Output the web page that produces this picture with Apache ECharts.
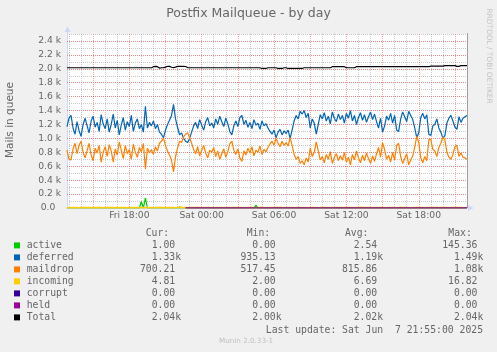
<!DOCTYPE html>
<html><head><meta charset="utf-8">
<script src="https://cdn.jsdelivr.net/npm/echarts@6/dist/echarts.min.js"></script>
<style>html,body{margin:0;padding:0;background:#f0f0f0;}#c{width:497px;height:352px;}</style>
</head><body><div id="c"></div>
<script>
// ---------- data ----------
const startMinutes = 12 * 60 + 50; // Fri 12:50, 10-minute steps
const stepMinutes = 10;
const pointCount = 200;
const xTickLabels = ['Fri 18:00', 'Sat 00:00', 'Sat 06:00', 'Sat 12:00', 'Sat 18:00'];
const yTickValues = [0, 200, 400, 600, 800, 1000, 1200, 1400, 1600, 1800, 2000, 2200, 2400];

const seriesNames = ['active', 'deferred', 'maildrop', 'incoming', 'corrupt', 'held', 'Total'];
const seriesColors = ['#00cc00', '#0066b3', '#ff8000', '#ffcc00', '#330099', '#990099', '#000000'];
const curVals = ['1.00', '1.33k', '700.21', '4.81', '0.00', '0.00', '2.04k'];
const minVals = ['0.00', '935.13', '517.45', '2.00', '0.00', '0.00', '2.00k'];
const avgVals = ['2.54', '1.19k', '815.86', '6.69', '0.00', '0.00', '2.02k'];
const maxVals = ['145.36', '1.49k', '1.08k', '16.82', '0.00', '0.00', '2.04k'];
const lastUpdate = 'Last update: Sat Jun  7 21:55:00 2025';

const active = [
  0,0,1,0,0,0,0,2,0,0,
  0,0,0,0,1,0,0,0,0,0,
  0,2,0,0,0,0,0,1,0,0,
  0,0,0,0,0,1,0,95,0,145,
  0,0,0,1,0,0,0,0,2,0,
  0,0,0,0,0,0,1,0,0,0,
  0,0,0,0,2,0,0,0,0,0,
  0,1,0,0,0,6,0,0,0,0,
  0,0,0,0,0,0,1,0,0,0,
  0,0,0,0,40,0,0,0,2,0,
  0,0,0,0,0,1,0,0,0,0,
  0,0,2,0,0,0,0,0,0,1,
  0,0,0,0,0,0,0,0,0,0,
  0,1,0,0,0,0,0,2,0,0,
  0,0,0,0,0,0,0,0,1,0,
  0,0,0,2,0,0,0,0,0,0,
  0,0,0,0,0,1,0,0,0,0,
  0,2,0,0,0,0,0,0,0,0,
  0,0,0,1,0,0,0,0,0,2,
  0,0,0,0,0,0,1,0,0,1];
const deferred = [
  1170,1290,1330,1150,1060,1240,1110,1030,1200,1290,
  1180,1080,1250,1320,1160,1230,1100,1340,1210,1140,
  1280,1090,1200,1350,1150,1260,1050,1190,1300,1120,
  1240,1170,1330,1100,1220,1280,1140,1200,1090,1460,
  1150,1230,1180,1250,1140,1200,1090,1060,1010,1120,
  1200,1260,1330,1490,1280,1160,1050,1080,1000,960,
  940,1000,1090,1180,1230,1140,1270,1190,1120,1240,
  1300,1180,1220,1150,1280,1200,1320,1240,1170,1290,
  1210,1100,1050,1180,1250,1170,1300,1330,1200,1260,
  1160,1230,1140,1270,1190,1220,1130,1250,1180,1210,
  1150,1100,1060,1120,1010,1090,1130,1050,1110,1070,
  1120,1000,1120,1250,1330,1280,1390,1350,1400,1300,
  1360,1150,1280,1220,1060,1200,1340,1280,1370,1250,
  1320,1210,1380,1290,1240,1350,1270,1330,1220,1360,
  1290,1400,1250,1330,1200,1300,1370,1260,1340,1230,
  1310,1380,1270,1350,1240,1150,1290,1090,1180,1320,
  1260,1360,1220,1330,1120,1100,1280,1380,1310,1240,
  1390,1330,1270,1150,1010,1080,1300,1360,1280,1340,
  1060,1040,1180,1200,1280,1150,1090,1000,1040,1220,
  1290,1330,1250,1160,1130,1310,1230,1290,1310,1330];
const maildrop = [
  830,700,690,850,930,780,900,960,800,720,
  820,930,760,680,860,790,900,660,800,880,
  740,910,820,660,850,760,950,830,710,900,
  780,840,700,920,800,730,870,810,930,560,
  860,790,840,770,880,820,930,960,1000,900,
  820,760,690,520,740,860,960,940,1020,1060,
  1080,1010,930,840,780,880,750,830,900,790,
  720,830,800,870,740,820,700,780,850,730,
  810,920,960,830,770,850,720,670,820,760,
  860,790,880,750,830,800,890,770,840,810,
  870,920,960,900,1000,930,880,960,900,940,
  890,1010,900,770,700,740,640,680,620,720,
  660,860,740,800,950,820,690,740,650,770,
  700,810,640,730,780,680,750,690,800,660,
  730,620,770,690,820,720,650,760,680,790,
  710,640,750,670,780,870,730,940,840,700,
  760,660,800,690,900,930,740,640,710,780,
  620,690,750,870,1030,940,720,650,740,680,
  980,990,840,820,740,870,930,1020,980,800,
  730,700,770,880,900,740,790,730,720,700];
const incoming = [
  5,4,6,5,7,5,4,6,5,8,
  6,5,4,7,5,6,9,5,4,6,
  5,7,6,4,5,8,6,5,7,5,
  4,6,5,7,6,5,4,7,5,6,
  5,8,6,4,5,7,12,5,6,4,
  6,5,7,5,4,6,17,5,6,5,
  4,7,5,6,5,10,6,4,5,7,
  6,5,8,4,6,5,7,5,6,4,
  5,6,4,9,5,7,6,5,4,6,
  7,5,6,4,8,5,6,5,7,4,
  6,5,4,7,5,6,11,5,4,6,
  5,7,6,4,5,8,6,5,2,6,
  4,6,5,7,5,4,6,9,5,6,
  5,4,6,5,7,6,5,8,6,5,
  6,5,7,4,6,5,9,6,5,7,
  5,6,4,7,5,6,8,5,6,4,
  7,5,6,5,4,6,10,5,7,5,
  6,4,5,7,6,5,8,6,4,5,
  5,7,6,5,9,4,6,5,7,6,
  4,6,5,8,5,6,7,5,4,5];
const corrupt = [
  null,null,null,null,null,null,null,null,null,null,
  null,null,null,null,null,null,null,null,null,null,
  null,null,null,null,null,null,null,null,null,null,
  null,null,null,null,null,null,null,null,null,null,
  null,null,null,null,null,null,null,null,null,null,
  null,null,null,null,null,null,null,null,null,0,
  0,0,0,0,0,0,0,0,0,0, 0,0,0,0,0,0,0,0,0,0,
  0,0,0,0,0,0,0,0,0,0, 0,0,0,0,0,0,0,0,0,0,
  0,0,0,0,0,0,0,0,0,0, 0,0,0,0,0,0,0,0,0,0,
  0,0,0,0,0,0,0,0,0,0, 0,0,0,0,0,0,0,0,0,0,
  0,0,0,0,0,0,0,0,0,0, 0,0,0,0,0,0,0,0,0,0,
  0,0,0,0,0,0,0,0,0,0, 0,0,0,0,0,0,0,0,0,0,
  0,0,0,0,0,0,0,0,0,0, 0,0,0,0,0,0,0,0,0,0];
const held = [
  null,null,null,null,null,null,null,null,null,null,
  null,null,null,null,null,null,null,null,null,null,
  null,null,null,null,null,null,null,null,null,null,
  null,null,null,null,null,null,null,null,null,null,
  null,null,null,null,null,null,null,null,null,null,
  null,null,null,null,null,null,null,null,null,0,
  0,0,0,0,0,0,0,0,0,0, 0,0,0,0,0,0,0,0,0,0,
  0,0,0,0,0,0,0,0,0,0, 0,0,0,0,0,0,0,0,0,0,
  0,0,0,0,0,0,0,0,0,0, 0,0,0,0,0,0,0,0,0,0,
  0,0,0,0,0,0,0,0,0,0, 0,0,0,0,0,0,0,0,0,0,
  0,0,0,0,0,0,0,0,0,0, 0,0,0,0,0,0,0,0,0,0,
  0,0,0,0,0,0,0,0,0,0, 0,0,0,0,0,0,0,0,0,0,
  0,0,0,0,0,0,0,0,0,0, 0,0,0,0,0,0,0,0,0,0];
const total = [
  2015,2015,2015,2015,2015,2015,2015,2015,2015,2015,
  2015,2015,2015,2015,2015,2015,2015,2015,2015,2015,
  2015,2015,2015,2015,2015,2015,2015,2015,2015,2015,
  2015,2015,2015,2015,2015,2015,2015,2015,2015,2015,
  2015,2015,2015,2030,2035,2030,2010,2015,2018,2025,
  2035,2035,2022,2018,2025,2035,2035,2035,2035,2033,
  2018,2015,2015,2015,2015,2015,2015,2015,2015,2015,
  2015,2015,2015,2015,2015,2015,2015,2015,2015,2015,
  2015,2015,2015,2015,2015,2015,2015,2015,2015,2015,
  2015,2015,2015,2015,2015,2015,2015,2005,2005,2005,
  2015,2015,2015,2015,2015,2005,2005,2005,2015,2015,
  2005,2005,2005,2005,2005,2005,2005,2005,2015,2015,
  2015,2015,2015,2015,2015,2015,2015,2015,2015,2015,
  2015,2015,2030,2030,2030,2030,2030,2030,2030,2015,
  2015,2015,2015,2015,2030,2030,2030,2030,2030,2030,
  2030,2030,2030,2030,2030,2030,2030,2030,2030,2030,
  2030,2030,2030,2030,2030,2030,2030,2030,2030,2030,
  2030,2030,2030,2030,2030,2030,2030,2030,2030,2030,
  2030,2038,2038,2038,2038,2038,2038,2038,2045,2045,
  2045,2045,2045,2045,2035,2035,2045,2045,2045,2045];
const seriesData = [active, deferred, maildrop, incoming, corrupt, held, total];

// ---------- categories (time of each 10-minute step) ----------
const categories = [];
for (let i = 0; i < pointCount; i++) {
  const m = startMinutes + i * stepMinutes;
  const day = m >= 1440 ? 'Sat' : 'Fri';
  const mm = m % 1440;
  const h = Math.floor(mm / 60), mi = mm % 60;
  categories.push(day + ' ' + String(h).padStart(2, '0') + ':' + String(mi).padStart(2, '0'));
}
function isHour(v) { return String(v).slice(7) === '00'; }

// ---------- style ----------
const SANS = '"DejaVu Sans", sans-serif';
const MONO = '"DejaVu Sans Mono", monospace';
const FONT_COL = '#666666';
const AXIS_COL = '#cfd6f8';
const MINOR = 'rgba(150,150,150,0.5)';
const MAJOR = 'rgba(255,70,70,0.5)';
const DOT = [1, 1];

const gridL = 67, gridR = 467, gridT = 34, gridB = 208;

const graphics = [];
graphics.push({type: 'text', x: 248.5, y: 13.5, z: 100,
  style: {text: 'Postfix Mailqueue - by day', font: '12.5px ' + SANS, fill: FONT_COL, align: 'center', verticalAlign: 'middle'}});
graphics.push({type: 'text', x: 10.5, y: 120, rotation: Math.PI / 2, z: 100,
  style: {text: 'Mails in queue', font: '10.5px ' + SANS, fill: FONT_COL, align: 'center', verticalAlign: 'middle'}});
graphics.push({type: 'text', x: 488.5, y: 56, rotation: -Math.PI / 2, z: 100,
  style: {text: 'RRDTOOL / TOBI OETIKER', font: '7.4px ' + SANS, fill: '#c4c4c4', align: 'center', verticalAlign: 'middle'}});
// axis arrows & right frame
graphics.push({type: 'line', z: 100, shape: {x1: gridL + 0.5, y1: 31, x2: gridL + 0.5, y2: gridT}, style: {stroke: AXIS_COL, lineWidth: 1}});
graphics.push({type: 'polygon', z: 100, shape: {points: [[gridL + 0.5, 26.5], [gridL - 2.5, 32], [gridL + 3.5, 32]]}, style: {fill: AXIS_COL}});
graphics.push({type: 'polygon', z: 100, shape: {points: [[gridR + 6.5, gridB], [gridR + 1, gridB - 3], [gridR + 1, gridB + 3]]}, style: {fill: AXIS_COL}});
graphics.push({type: 'line', z: 100, shape: {x1: gridR + 0.5, y1: gridT - 1, x2: gridR + 0.5, y2: gridB}, style: {stroke: '#a0a0a0', lineWidth: 1}});

// legend table
const CW = 5.87;
const rowY0 = 245.7, rowStep = 12;
const colEdges = [181, 281.5, 383, 483.3];
const colVals = [curVals, minVals, avgVals, maxVals];
const headers = [['Cur:', 145.7], ['Min:', 246.7], ['Avg:', 345], ['Max:', 448.3]];
const legendFont = '9.75px ' + MONO;
headers.forEach(h => graphics.push({type: 'text', x: h[1], y: 233.5, z: 100,
  style: {text: h[0], font: legendFont, fill: FONT_COL, align: 'left', verticalAlign: 'middle'}}));
seriesNames.forEach((name, r) => {
  const y = rowY0 + r * rowStep;
  graphics.push({type: 'rect', z: 100, shape: {x: 14, y: y - 3.3, width: 6, height: 6}, style: {fill: seriesColors[r]}});
  graphics.push({type: 'text', x: 26.7, y: y, z: 100,
    style: {text: name, font: legendFont, fill: FONT_COL, align: 'left', verticalAlign: 'middle'}});
  colVals.forEach((vals, c) => {
    const s = vals[r];
    const edge = colEdges[c] - (s.endsWith('k') ? 0 : CW);
    graphics.push({type: 'text', x: edge, y: y, z: 100,
      style: {text: s, font: legendFont, fill: FONT_COL, align: 'right', verticalAlign: 'middle'}});
  });
});
graphics.push({type: 'text', x: 483, y: 330, z: 100,
  style: {text: lastUpdate, font: legendFont, fill: FONT_COL, align: 'right', verticalAlign: 'middle'}});
graphics.push({type: 'text', x: 219, y: 341, z: 100,
  style: {text: 'Munin 2.0.33-1', font: '7.2px ' + SANS, fill: '#c0c0c0', align: 'left', verticalAlign: 'middle'}});

const chart = echarts.init(document.getElementById('c'), null, {renderer: 'canvas'});
chart.setOption({
  animation: false,
  backgroundColor: '#f0f0f0',
  grid: {left: gridL, right: 497 - gridR, top: gridT, bottom: 352 - gridB, show: true, backgroundColor: '#ffffff', borderWidth: 0},
  xAxis: [{
    type: 'category', data: categories, boundaryGap: false, position: 'bottom',
    axisLine: {show: true, lineStyle: {color: AXIS_COL, width: 1}},
    axisTick: {show: false},
    axisLabel: {interval: (i, v) => xTickLabels.indexOf(v) >= 0,
      color: FONT_COL, fontFamily: SANS, fontSize: 9.2, margin: 3},
    // hourly lines from Fri 13:00: 13 & 14 minor, 15 major, ... (every third hour major)
    splitLine: {show: true, interval: (i, v) => isHour(v), lineStyle: {color: [MINOR, MINOR, MAJOR], type: DOT, width: 1}}
  }],
  yAxis: [{
    type: 'value', min: 0, max: 2500, interval: 100, position: 'left',
    axisLine: {show: true, lineStyle: {color: AXIS_COL, width: 1}},
    axisTick: {show: false},
    axisLabel: {color: FONT_COL, fontFamily: SANS, fontSize: 9.2, margin: 6,
      formatter: v => yTickValues.indexOf(v) < 0 ? '' : (v === 0 ? '{z|0.0}' : (v / 1000).toFixed(1) + ' k'),
      rich: {z: {color: FONT_COL, fontFamily: SANS, fontSize: 9.2, padding: [0, 5.7, 0, 0]}}},
    splitLine: {show: true, lineStyle: {color: MINOR, type: DOT, width: 1}}
  }, {
    type: 'value', min: 0, max: 2500, interval: 200, position: 'left', z: 1,
    axisLine: {show: false}, axisTick: {show: false}, axisLabel: {show: false},
    splitLine: {show: true, showMinLine: false, showMaxLine: false, lineStyle: {color: MAJOR, type: DOT, width: 1}}
  }],
  series: seriesNames.map((n, k) => ({
    name: n, type: 'line', data: seriesData[k], xAxisIndex: 0, yAxisIndex: 0,
    symbol: 'none', showSymbol: false, connectNulls: false, z: 3 + k,
    lineStyle: {color: seriesColors[k], width: k === 3 ? 1.6 : 1.2},
    itemStyle: {color: seriesColors[k]}, emphasis: {disabled: true}, silent: true
  })),
  graphic: graphics
});
</script>
</body></html>
